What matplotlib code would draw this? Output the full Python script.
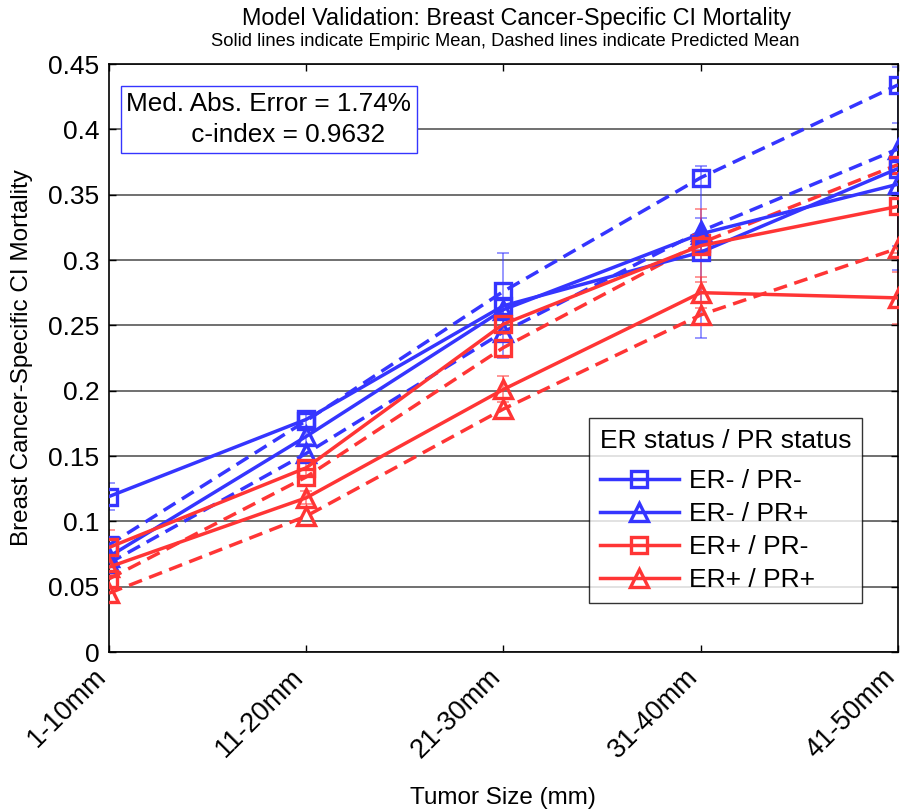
import matplotlib
matplotlib.use('Agg')
import matplotlib.pyplot as plt
from matplotlib.lines import Line2D
from matplotlib.transforms import ScaledTranslation
import numpy as np

plt.rcParams['font.family'] = ['Liberation Sans', 'DejaVu Sans']

# ---------------- data ----------------
size_labels = ['1-10mm', '11-20mm', '21-30mm', '31-40mm', '41-50mm']
series_names = ['ER- / PR-', 'ER- / PR+', 'ER+ / PR-', 'ER+ / PR+']

# empirical means (solid lines)
emp_nn = [0.119, 0.178, 0.265, 0.306, 0.370]
emp_np = [0.073, 0.165, 0.262, 0.320, 0.358]
emp_pn = [0.080, 0.141, 0.251, 0.311, 0.341]
emp_pp = [0.065, 0.118, 0.201, 0.275, 0.271]

# predicted means (dashed lines)
pred_nn = [0.082, 0.177, 0.276, 0.363, 0.434]
pred_np = [0.068, 0.152, 0.245, 0.322, 0.385]
pred_pn = [0.056, 0.134, 0.233, 0.313, 0.373]
pred_pp = [0.045, 0.104, 0.186, 0.258, 0.309]

# empirical error bar half-widths
err_nn = [0.010, 0.006, 0.040, 0.066, 0.078]
err_np = [0.008, 0.006, 0.008, 0.012, 0.047]
err_pn = [0.013, 0.006, 0.008, 0.028, 0.036]
err_pp = [0.006, 0.005, 0.010, 0.012, 0.020]

med_abs_error = '1.74%'
c_index = '0.9632'

# ---------------- style ----------------
BLUE = '#3535ff'
RED = '#ff3535'
colors = [BLUE, BLUE, RED, RED]
markers = ['s', '^', 's', '^']
msizes = [12, 13.5, 12, 13.5]

emp = [emp_nn, emp_np, emp_pn, emp_pp]
pred = [pred_nn, pred_np, pred_pn, pred_pp]
errs = [err_nn, err_np, err_pn, err_pp]

fig = plt.figure(figsize=(9.04, 8.11), dpi=100)
ax = fig.add_axes([109/904, 1-652/811, 789/904, 588/811])

x = np.arange(1, len(size_labels) + 1)

# error bars
for e, er, c in zip(emp, errs, colors):
    ax.errorbar(x, e, yerr=er, fmt='none', ecolor=c, elinewidth=1.2,
                capsize=4, capthick=1.2, alpha=0.6, zorder=2)

# predicted (dashed)
for p, c, m, ms in zip(pred, colors, markers, msizes):
    ax.plot(x, p, color=c, linestyle=(0, (4, 2.2)), linewidth=2.5,
            marker=m, markersize=ms, markerfacecolor='none',
            markeredgewidth=2.4, markeredgecolor=c, zorder=3)

# empirical (solid)
for e, c, m, ms, name in zip(emp, colors, markers, msizes, series_names):
    ax.plot(x, e, color=c, linestyle='-', linewidth=2.5,
            marker=m, markersize=ms, markerfacecolor='none',
            markeredgewidth=2.4, markeredgecolor=c, zorder=4, label=name)

ax.set_xlim(1, 5)
ax.set_ylim(0, 0.45)
ax.set_yticks(np.arange(0, 0.451, 0.05))
ax.set_yticklabels(['0', '0.05', '0.1', '0.15', '0.2', '0.25', '0.3', '0.35', '0.4', '0.45'])
ax.set_xticks(x)
ax.set_xticklabels(size_labels, rotation=45, ha='right', va='center',
                   rotation_mode='anchor')
ax.tick_params(axis='both', direction='in', length=5, width=1,
               top=True, right=True, labelsize=19)
ax.tick_params(axis='y', pad=7)
ax.tick_params(axis='x', pad=15, labelsize=19.5)
for lab in ax.get_xticklabels():
    lab.set_transform(lab.get_transform() + ScaledTranslation(-7/100, 0, fig.dpi_scale_trans))
ax.yaxis.grid(True, color='#707070', linewidth=1.4, linestyle='-')
ax.set_axisbelow(True)
for s in ax.spines.values():
    s.set_linewidth(1.2)
    s.set_color('black')

fig.text(22/904, 1-358/811, 'Breast Cancer-Specific CI Mortality', rotation=90,
         ha='center', va='center', fontsize=17.5)
fig.text(503/904, 1-798/811, 'Tumor Size (mm)', ha='center', va='center', fontsize=17.5)

fig.text(517/904, 1-18/811, 'Model Validation: Breast Cancer-Specific CI Mortality',
         ha='center', va='center', fontsize=16.8)
fig.text(505/904, 1-42/811,
         'Solid lines indicate Empiric Mean, Dashed lines indicate Predicted Mean',
         ha='center', va='center', fontsize=13.2)

ax.text(0.022, 0.952, 'Med. Abs. Error = ' + med_abs_error + '\n         c-index = ' + c_index,
        transform=ax.transAxes, ha='left', va='top', fontsize=18.8,
        linespacing=1.35,
        bbox=dict(boxstyle='square,pad=0.22', facecolor='white', edgecolor=BLUE, linewidth=1))

leg_handles = [Line2D([], [], color=c, linewidth=2.5, marker=m, markersize=ms - 1,
                      markerfacecolor='none', markeredgewidth=2.4, markeredgecolor=c)
               for c, m, ms in zip(colors, markers, msizes)]
leg = ax.legend(leg_handles, series_names, title='ER status / PR status',
                loc='upper left', bbox_to_anchor=((589-109)/789, (652-418)/588),
                borderaxespad=0, fontsize=19, title_fontsize=19, frameon=True,
                fancybox=False, edgecolor='black', handlelength=3.0,
                labelspacing=0.34, handletextpad=0.4, borderpad=0.4)
leg.get_frame().set_linewidth(1.0)
leg._legend_box.align = 'left'
leg._legend_box.sep = 12

fig.savefig('out.png', dpi=100)
